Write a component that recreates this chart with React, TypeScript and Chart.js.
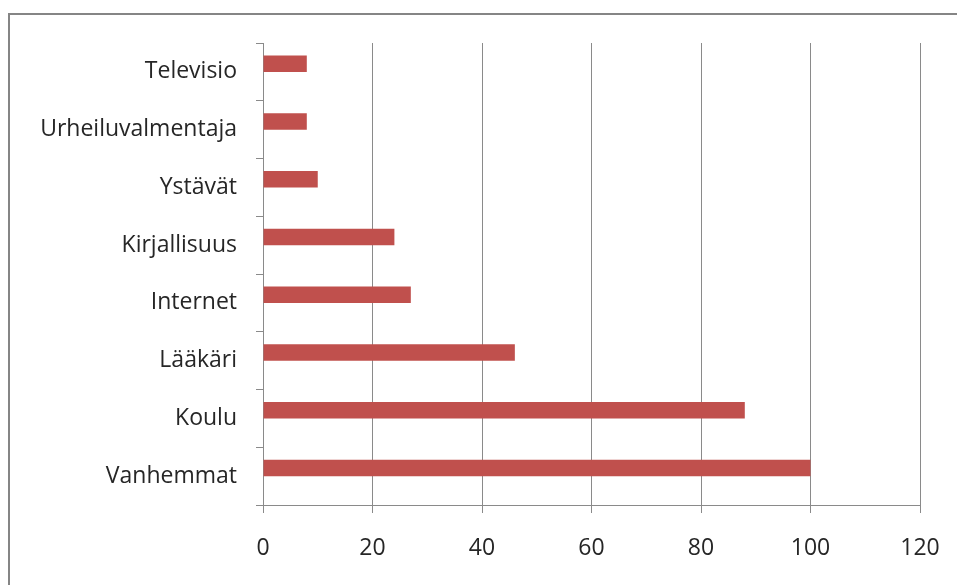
import React, { useEffect, useRef } from "react";
import { Chart, registerables } from "chart.js";

Chart.register(...registerables);

// Categories listed top to bottom
const categories: string[] = [
  "Televisio",
  "Urheiluvalmentaja",
  "Ystävät",
  "Kirjallisuus",
  "Internet",
  "Lääkäri",
  "Koulu",
  "Vanhemmat",
];

const values: number[] = [8, 8, 10, 24, 27, 46, 88, 100];

// Second (empty) series keeps the bars in the upper half of each band
const emptySeries: (number | null)[] = categories.map(() => null);

const xMin = 0;
const xMax = 120;
const xStep = 20;

const W = 957;
const H = 585;

const FONT = "'Open Sans', 'Noto Sans', sans-serif";
const LINE = "#8a8a8a";
const TEXT = "#262626";
const BAR = "#C0504D";

export default function App() {
  const canvasRef = useRef<HTMLCanvasElement | null>(null);

  useEffect(() => {
    const canvas = canvasRef.current;
    if (!canvas) return;
    const chart = new Chart(canvas, {
      type: "bar",
      data: {
        labels: categories,
        datasets: [
          {
            label: "Lähde",
            data: values,
            backgroundColor: BAR,
            borderWidth: 0,
            categoryPercentage: 0.57,
            barPercentage: 1,
          },
          {
            label: "",
            data: emptySeries,
            backgroundColor: "transparent",
            categoryPercentage: 0.57,
            barPercentage: 1,
          },
        ],
      },
      options: {
        indexAxis: "y",
        responsive: false,
        animation: false,
        layout: { padding: { left: 0, right: 37, top: 43, bottom: 0 } },
        plugins: {
          legend: { display: false },
          tooltip: { enabled: false },
        },
        scales: {
          x: {
            type: "linear",
            min: xMin,
            max: xMax,
            ticks: {
              stepSize: xStep,
              color: TEXT,
              padding: 22,
              maxRotation: 0,
              font: { family: FONT, size: 23 },
            },
            grid: {
              color: LINE,
              lineWidth: 1,
              drawTicks: true,
              tickLength: 8,
            },
            border: { display: true, color: LINE, width: 1 },
            afterFit: (scale: any) => {
              scale.height = 80;
              scale.paddingLeft = 0;
              scale.paddingRight = 0;
            },
          },
          y: {
            type: "category",
            offset: true,
            ticks: {
              color: TEXT,
              padding: 19,
              font: { family: FONT, size: 23 },
            },
            grid: {
              drawOnChartArea: false,
              drawTicks: true,
              tickLength: 7,
              color: LINE,
              offset: true,
            },
            border: { display: true, color: LINE, width: 1 },
            afterFit: (scale: any) => {
              scale.width = 263;
              scale.paddingTop = 0;
              scale.paddingBottom = 0;
            },
          },
        },
      },
    });
    return () => chart.destroy();
  }, []);

  return (
    <div
      style={{
        position: "fixed",
        left: 0,
        top: 0,
        width: W,
        height: H,
        overflow: "hidden",
        background: "#fff",
      }}
    >
      <div
        style={{
          position: "absolute",
          left: 8,
          top: 13,
          width: W + 40,
          height: H + 40,
          border: "2px solid #858585",
          boxSizing: "border-box",
        }}
      />
      <canvas
        ref={canvasRef}
        width={W}
        height={H}
        style={{ position: "absolute", left: 0, top: 0, width: W, height: H }}
      />
    </div>
  );
}
